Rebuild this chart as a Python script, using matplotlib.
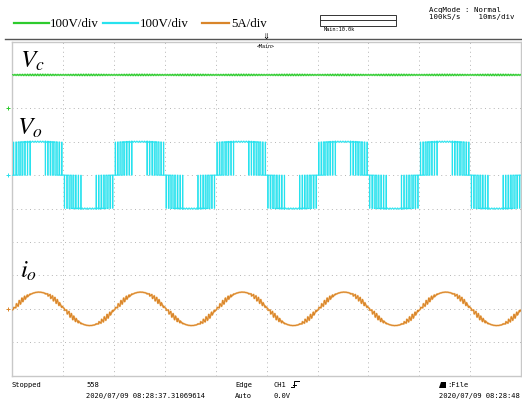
import numpy as np
import matplotlib
matplotlib.use("Agg")
import matplotlib.pyplot as plt
from matplotlib.lines import Line2D
from matplotlib.patches import Rectangle, Polygon

plt.rcParams["path.simplify"] = False
plt.rcParams["mathtext.fontset"] = "stix"

# ---- channel setup -------------------------------------------------------
channel_labels = [r"$V_c$", r"$V_o$", r"$i_o$"]
channel_scales = ["100V/div", "100V/div", "5A/div"]
channel_colors = ["#2DCB2D", "#27E2EE", "#D9852A"]
halo_colors = ["#8FE58F", "#A8F3F8", "#F1BE7E"]
halo_widths = [1.4, 1.0, 1.4]
core_widths = [0.7, 0.55, 0.7]
ground_div = [3.0, 1.0, -3.0]          # ground level of each trace (divisions)
units_per_div = [100.0, 100.0, 5.0]

# ---- acquisition ---------------------------------------------------------
sample_rate = 100e3                    # 100 kS/s
time_per_div = 10e-3                   # 10 ms/div
n_div_x, n_div_y = 10, 10

# ---- inverter operating point -------------------------------------------
dc_link_voltage = 100.0                # V
dc_ripple_voltage = 2.0                # V
fundamental_hz = 50.0
carrier_hz = 1000.0
modulation_index = 1.09
load_current_peak = 2.5                # A
load_phase_deg = 4.0
ripple_current_pp = 0.75               # A

# ---- status texts ----------------------------------------------------------
acq_lines = ["AcqMode : Normal", "100kS/s    10ms/div"]
status_left = ["Stopped", ""]
status_count = ["558", "2020/07/09 08:28:37.31069614"]
status_trig = ["Edge", "Auto"]
status_src = ["CH1", "0.0V"]
status_file = [":File", "2020/07/09 08:28:48"]

# ---- waveforms -----------------------------------------------------------
dt = 1.0 / sample_rate
t = np.arange(0.0, n_div_x * time_per_div, dt)
w = 2 * np.pi * fundamental_hz
ref = modulation_index * np.sin(w * t)
phase = (t * carrier_hz) % 1.0
carrier = 2 * np.abs(2 * phase - 1) - 1
leg_a = (ref > carrier).astype(float)
leg_b = (-ref > carrier).astype(float)
switching = leg_a - leg_b

phase2 = (t * 2 * carrier_hz) % 1.0
tri2 = 2 * np.abs(2 * phase2 - 1) - 1
vc = dc_link_voltage + dc_ripple_voltage * tri2 * (0.5 + 0.5 * np.abs(np.sin(w * t)))
vo = vc * switching

# inductor current ripple from the switching voltage
v_avg = dc_link_voltage * np.clip(ref, -1, 1)
raw = np.cumsum(vo - v_avg) * dt
k = int(sample_rate / carrier_hz)
padded = np.pad(raw, k, mode="edge")
smooth = np.convolve(padded, np.ones(k) / k, mode="same")[k:-k]
ripple = raw - smooth
ripple = ripple / (ripple.max() - ripple.min()) * ripple_current_pp
io = load_current_peak * np.sin(w * t - np.deg2rad(load_phase_deg)) + ripple

traces = [vc, vo, io]
t_ms = t * 1e3

# ---- figure --------------------------------------------------------------
W, H = 522, 402
fig = plt.figure(figsize=(W / 100, H / 100), dpi=100)


def fx(x):
    return x / W


def fy(y):
    return 1 - y / H


box_l, box_r, box_t, box_b = 12.3, 521.0, 42.5, 376.7
ax = fig.add_axes([fx(box_l), fy(box_b), fx(box_r - box_l), (box_b - box_t) / H])
ax.set_xlim(0, n_div_x * time_per_div * 1e3)
ax.set_ylim(-n_div_y / 2, n_div_y / 2)
ax.set_xticks([])
ax.set_yticks([])
for s in ax.spines.values():
    s.set_color("#c8c8c8")
    s.set_linewidth(1.0)

grid_kw = dict(color="#b4b4b4", lw=0.7, ls=(0, (1, 3.5)), zorder=0)
for i in range(1, n_div_x):
    ax.axvline(i * time_per_div * 1e3, **grid_kw)
for j in range(1, n_div_y):
    ax.axhline(-n_div_y / 2 + j, **grid_kw)

for y, g, upd, c, hc, hw, cw in zip(traces, ground_div, units_per_div, channel_colors,
                                    halo_colors, halo_widths, core_widths):
    ax.plot(t_ms, g + y / upd, color=hc, lw=hw, zorder=2)
    ax.plot(t_ms, g + y / upd, color=c, lw=cw, zorder=3)

# ground markers on the left edge
for g, c in zip(ground_div, channel_colors):
    ax.plot([-0.8], [g], marker="+", ms=3, mew=0.7, color=c, clip_on=False)

# channel names
label_pos = [(20, 68), (17, 135), (20, 278)]
for lab, (x, y) in zip(channel_labels, label_pos):
    fig.text(fx(x), fy(y), lab, fontsize=18, va="baseline", ha="left", color="black")

# ---- header --------------------------------------------------------------
fig.add_artist(Line2D([fx(5), fx(522)], [fy(39.5), fy(39.5)], color="#555555", lw=1.0))

legend_segments = [(14, 49), (103, 138), (202, 229)]
legend_text_x = [50, 140, 231]
for (x0, x1), tx, c, sc in zip(legend_segments, legend_text_x, channel_colors, channel_scales):
    fig.add_artist(Line2D([fx(x0), fx(x1)], [fy(23.5), fy(23.5)], color=c, lw=1.6))
    fig.text(fx(tx), fy(26.8), sc, fontsize=9.3, family="Liberation Serif",
             va="baseline", ha="left")

fig.add_artist(Rectangle((fx(320), fy(26.8)), fx(76), (26.8 - 16.2) / H,
                         fill=False, ec="#333333", lw=0.7))
fig.add_artist(Line2D([fx(320), fx(396)], [fy(20.8), fy(20.8)], color="#333333", lw=0.7))
fig.text(fx(324), fy(29.5), "Main:10.0k", fontsize=3.8, family="DejaVu Sans Mono",
         va="center", ha="left")

fig.text(fx(429), fy(9.7), acq_lines[0], fontsize=5.3, family="DejaVu Sans Mono",
         va="center", ha="left")
fig.text(fx(429), fy(16.7), acq_lines[1], fontsize=5.3, family="DejaVu Sans Mono",
         va="center", ha="left")

# trigger position marker
fig.text(fx(266), fy(36.5), "\u21d3", fontsize=6, va="center", ha="center")
fig.text(fx(266), fy(46.0), "<Main>", fontsize=3.6, family="DejaVu Sans Mono",
         va="center", ha="center")

# ---- status bar ----------------------------------------------------------
mono = dict(fontsize=5.1, family="DejaVu Sans Mono", va="center", ha="left")
rows = [385.5, 396.0]
for r, y in enumerate(rows):
    fig.text(fx(11), fy(y), status_left[r], **mono)
    fig.text(fx(86), fy(y), status_count[r], **mono)
    fig.text(fx(235), fy(y), status_trig[r], **mono)
    fig.text(fx(273), fy(y), status_src[r], **mono)
fig.text(fx(447), fy(rows[0]), status_file[0], **mono)
fig.text(fx(439), fy(rows[1]), status_file[1], **mono)

# rising-edge symbol
edge_x = [291, 294, 294, 299]
edge_y = [388, 388, 382, 382]
fig.add_artist(Line2D([fx(v) for v in edge_x], [fy(v) for v in edge_y], color="black", lw=0.7))
fig.add_artist(Line2D([fx(292.5), fx(295.5)], [fy(385.5), fy(385.5)], color="black", lw=0.7))

# storage icon
fig.add_artist(Polygon([(fx(439), fy(388.5)), (fx(446), fy(388.5)), (fx(446), fy(383)),
                        (fx(441), fy(383))], closed=True, color="black", lw=0))

fig.savefig("out.png", dpi=100)
